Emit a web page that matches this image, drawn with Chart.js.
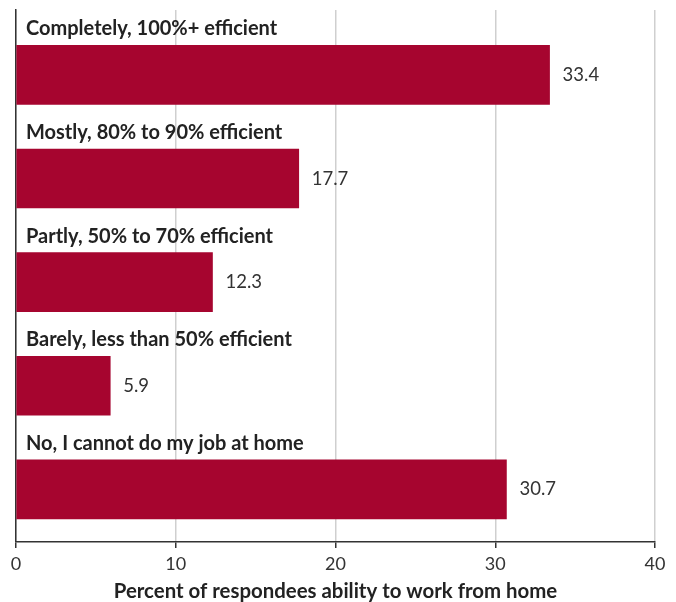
<!DOCTYPE html>
<html>
<head>
<meta charset="utf-8">
<script src="https://cdn.jsdelivr.net/npm/chart.js@4.4.1/dist/chart.umd.min.js"></script>
<style>
  html, body { margin: 0; padding: 0; background: #fff; }
  #wrap { position: relative; width: 676px; height: 602px; }
</style>
</head>
<body>
<div id="wrap"><canvas id="chart"></canvas></div>
<script>
const categories = [
    'Completely, 100%+ efficient',
    'Mostly, 80% to 90% efficient',
    'Partly, 50% to 70% efficient',
    'Barely, less than 50% efficient',
    'No, I cannot do my job at home'
];
const values = [33.4, 17.7, 12.3, 5.9, 30.7];
const xTicks = [0, 10, 20, 30, 40];
const axisTitle = 'Percent of respondees ability to work from home';

const barColor = '#a6052f';
const fontFamily = 'Lato, "Noto Sans", sans-serif';

// category name above each bar, value to the right
const barLabels = {
    id: 'barLabels',
    afterDatasetsDraw(chart) {
        const ctx = chart.ctx;
        const meta = chart.getDatasetMeta(0);
        const xScale = chart.scales.x;
        ctx.save();
        meta.data.forEach((bar, i) => {
            ctx.textBaseline = 'middle';
            ctx.textAlign = 'left';
            ctx.fillStyle = '#222';
            ctx.font = `bold 20px ${fontFamily}`;
            ctx.fillText(categories[i], xScale.left + 10, bar.y - 46);
            ctx.font = `18.5px ${fontFamily}`;
            ctx.fillStyle = '#333';
            ctx.fillText(values[i].toFixed(1), bar.x + 13, bar.y);
        });
        ctx.restore();
    }
};

new Chart(document.getElementById('chart'), {
    type: 'bar',
    data: {
        datasets: [{
            data: values.map((v, i) => ({ x: v, y: i })),
            backgroundColor: barColor,
            barThickness: 59,
            borderWidth: 0
        }]
    },
    options: {
        indexAxis: 'y',
        responsive: true,
        maintainAspectRatio: false,
        animation: false,
        layout: { padding: { top: 10, left: 16, right: 21, bottom: 0 } },
        plugins: {
            legend: { display: false },
            tooltip: { enabled: false }
        },
        scales: {
            x: {
                type: 'linear',
                min: xTicks[0],
                max: xTicks[xTicks.length - 1],
                afterBuildTicks: scale => {
                    scale.ticks = xTicks.map(v => ({ value: v }));
                },
                grid: {
                    color: '#cfcfcf',
                    lineWidth: 1.5,
                    tickColor: '#333',
                    tickLength: 6,
                    drawTicks: true
                },
                border: { display: true, color: '#333', width: 1.5 },
                ticks: {
                    color: '#333',
                    font: { family: fontFamily, size: 18 },
                    padding: 5
                },
                title: {
                    display: true,
                    text: axisTitle,
                    color: '#222',
                    font: { family: fontFamily, size: 20.4, weight: 'bold' },
                    padding: { top: 0, bottom: -2 }
                }
            },
            y: {
                type: 'linear',
                reverse: true,
                bounds: 'data',
                min: -0.627,
                max: 4.508,
                afterDataLimits: scale => {
                    scale.min = -0.627;
                    scale.max = 4.508;
                },
                afterBuildTicks: scale => { scale.ticks = []; },
                afterFit: scale => { scale.width = 0; },
                grid: { display: false, drawTicks: false },
                ticks: { display: false, padding: 0 },
                border: { display: true, color: '#333', width: 1.5 }
            }
        }
    },
    plugins: [barLabels]
});
</script>
</body>
</html>
